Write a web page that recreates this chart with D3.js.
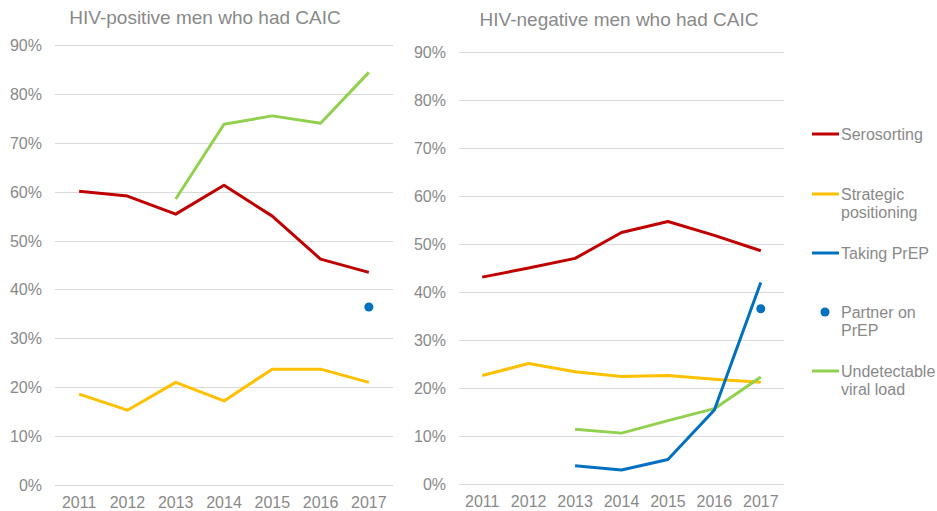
<!DOCTYPE html>
<head>
<meta charset="utf-8">
<title>CAIC strategies</title>
<style>
  body { margin: 0; padding: 0; background: #fff; font-family: 'Liberation Sans', Arial, sans-serif; }
  text { fill: #898989; font-family: 'Liberation Sans', Arial, sans-serif; }
  .grid line { stroke: #d9d9d9; stroke-width: 1; }
  .series { fill: none; stroke-width: 3; stroke-linejoin: round; }
</style>
</head>
<body>
<div id="vis"></div>
<script src="https://cdn.jsdelivr.net/npm/d3@7"></script>
<script>
var years = [2011, 2012, 2013, 2014, 2015, 2016, 2017];
var yTicks = [0, 10, 20, 30, 40, 50, 60, 70, 80, 90];

// HIV-positive men (percent, null = no data)
var posSerosorting = [60.1, 59.1, 55.4, 61.3, 55.0, 46.2, 43.5];
var posStrategic   = [18.6, 15.3, 21.0, 17.2, 23.7, 23.7, 21.0];
var posUndetect    = [null, null, 58.5, 73.8, 75.5, 74.0, 84.4];
var posPartner     = [null, null, null, null, null, null, 36.4];

// HIV-negative men
var negSerosorting = [43.1, 45.0, 47.0, 52.4, 54.7, 51.8, 48.6];
var negStrategic   = [22.6, 25.1, 23.4, 22.4, 22.6, 21.8, 21.2];
var negPrep        = [null, null, 3.8, 2.9, 5.1, 15.4, 42.0];
var negUndetect    = [null, null, 11.4, 10.6, 13.2, 15.7, 22.3];
var negPartner     = [null, null, null, null, null, null, 36.5];

var colors = {
  sero: '#c00000',
  strat: '#ffc000',
  prep: '#0070c0',
  undet: '#92d050'
};

var svg = d3.select('#vis').append('svg')
  .attr('width', 937)
  .attr('height', 511);

function panel(opts) {
  var x = d3.scaleBand().domain(years).range([opts.left, opts.right]);
  var y = d3.scaleLinear().domain([0, 90]).range([opts.bottom, opts.top]);
  var g = svg.append('g');

  g.append('text')
    .attr('x', opts.titleX)
    .attr('y', opts.titleY)
    .attr('text-anchor', 'middle')
    .style('font-size', '19px')
    .text(opts.title);

  var grid = g.append('g').attr('class', 'grid');
  grid.selectAll('line').data(yTicks).enter().append('line')
    .attr('x1', opts.left).attr('x2', opts.right)
    .attr('y1', function(d) { return Math.round(y(d)) + 0.5; })
    .attr('y2', function(d) { return Math.round(y(d)) + 0.5; });

  g.selectAll('text.ytick').data(yTicks).enter().append('text')
    .attr('class', 'ytick')
    .attr('x', opts.left - 13)
    .attr('y', function(d) { return y(d) + 6; })
    .attr('text-anchor', 'end')
    .style('font-size', '16px')
    .text(function(d) { return d + '%'; });

  g.selectAll('text.xtick').data(years).enter().append('text')
    .attr('class', 'xtick')
    .attr('x', function(d) { return x(d) + x.bandwidth() / 2; })
    .attr('y', opts.bottom + 23)
    .attr('text-anchor', 'middle')
    .style('font-size', '16px')
    .text(function(d) { return d; });

  opts.series.forEach(function(s) {
    var line = d3.line()
      .defined(function(d) { return d != null; })
      .x(function(d, i) { return x(years[i]) + x.bandwidth() / 2; })
      .y(function(d) { return y(d); });
    g.append('path')
      .attr('class', 'series')
      .attr('stroke', s.color)
      .attr('d', line(s.values));
  });

  g.selectAll('circle.partner')
    .data(opts.partner.map(function(v, i) { return { v: v, yr: years[i] }; })
      .filter(function(d) { return d.v != null; }))
    .enter().append('circle')
    .attr('class', 'partner')
    .attr('cx', function(d) { return x(d.yr) + x.bandwidth() / 2; })
    .attr('cy', function(d) { return y(d.v); })
    .attr('r', 4.5)
    .attr('fill', colors.prep);
}

panel({
  title: 'HIV-positive men who had CAIC', titleX: 205, titleY: 24,
  left: 55, right: 393, top: 45, bottom: 485,
  series: [
    { values: posSerosorting, color: colors.sero },
    { values: posStrategic, color: colors.strat },
    { values: posUndetect, color: colors.undet }
  ],
  partner: posPartner
});

panel({
  title: 'HIV-negative men who had CAIC', titleX: 619, titleY: 26,
  left: 459, right: 784, top: 52, bottom: 484,
  series: [
    { values: negSerosorting, color: colors.sero },
    { values: negStrategic, color: colors.strat },
    { values: negUndetect, color: colors.undet },
    { values: negPrep, color: colors.prep }
  ],
  partner: negPartner
});

// legend
var legendItems = [
  { label: ['Serosorting'], color: colors.sero, type: 'line', y: 134 },
  { label: ['Strategic', 'positioning'], color: colors.strat, type: 'line', y: 194 },
  { label: ['Taking PrEP'], color: colors.prep, type: 'line', y: 253 },
  { label: ['Partner on', 'PrEP'], color: colors.prep, type: 'dot', y: 312 },
  { label: ['Undetectable', 'viral load'], color: colors.undet, type: 'line', y: 371 }
];

var leg = svg.append('g').selectAll('g').data(legendItems).enter().append('g')
  .attr('transform', function(d) { return 'translate(812,' + d.y + ')'; });

leg.filter(function(d) { return d.type == 'line'; }).append('line')
  .attr('x1', 0).attr('x2', 27).attr('y1', 0).attr('y2', 0)
  .attr('stroke', function(d) { return d.color; })
  .attr('stroke-width', 3);

leg.filter(function(d) { return d.type == 'dot'; }).append('circle')
  .attr('cx', 13).attr('cy', 0).attr('r', 4.5)
  .attr('fill', function(d) { return d.color; });

leg.append('text')
  .attr('x', 29)
  .attr('y', 6)
  .style('font-size', '16px')
  .selectAll('tspan').data(function(d) { return d.label; }).enter().append('tspan')
  .attr('x', 29)
  .attr('dy', function(d, i) { return i == 0 ? 0 : 18; })
  .text(function(d) { return d; });
</script>
</body>
